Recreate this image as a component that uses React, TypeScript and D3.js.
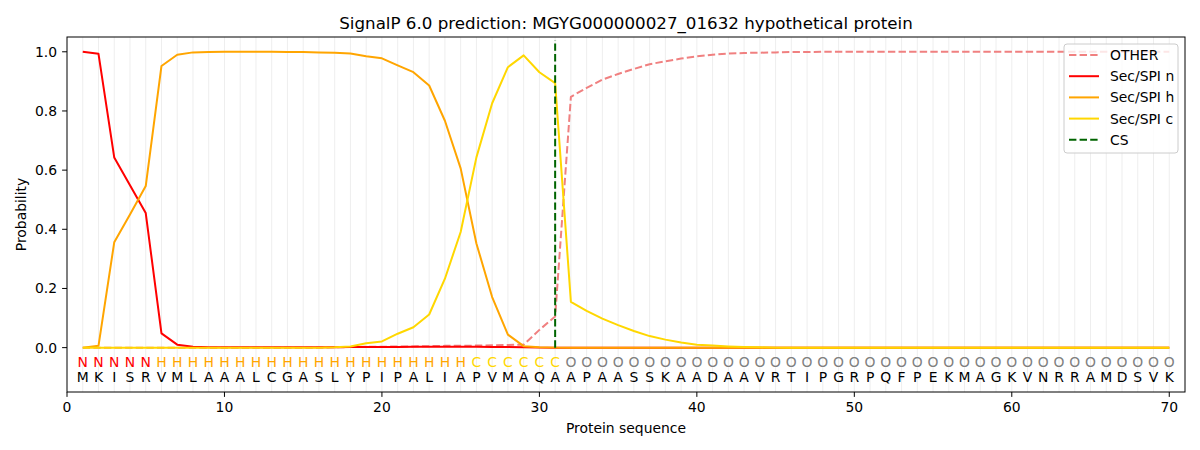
import * as d3 from "d3";

const sequence = "MKISRVMLAAALCGASLYPIPALIAPVMAQAAPAASSKAADAAVRTIPGRPQFPEKMAGKVNRRAMDSVK".split("");
const regions = "NNNNNHHHHHHHHHHHHHHHHHHHHCCCCCCOOOOOOOOOOOOOOOOOOOOOOOOOOOOOOOOOOOOOOO".split("");

const otherProb = [
  0, 0, 0, 0, 0, 0, 0, 0, 0, 0, 0, 0, 0, 0, 0, 0, 0.001, 0.002, 0.003, 0.003,
  0.004, 0.004, 0.005, 0.006, 0.006, 0.007, 0.008, 0.009, 0.01, 0.06, 0.105,
  0.848, 0.878, 0.906, 0.925, 0.942, 0.958, 0.968, 0.977, 0.985, 0.99, 0.994,
  0.996, 0.997, 0.998, 0.999, 0.999, 1, 1, 1, 1, 1, 1, 1, 1, 1, 1, 1, 1, 1, 1,
  1, 1, 1, 1, 1, 1, 1, 1, 1,
];
const nProb = [
  1.0, 0.993, 0.643, 0.549, 0.455, 0.048, 0.01, 0.003, 0.001, 0.001, 0.001,
  0.001, 0.001, 0.001, 0.001, 0.001, 0.001, 0.002, 0.002, 0.002, 0.002, 0.003,
  0.003, 0.003, 0.003, 0.003, 0.002, 0.002, 0.001, 0, 0, 0, 0, 0, 0, 0, 0, 0,
  0, 0, 0, 0, 0, 0, 0, 0, 0, 0, 0, 0, 0, 0, 0, 0, 0, 0, 0, 0, 0, 0, 0, 0, 0,
  0, 0, 0, 0, 0, 0, 0,
];
const hProb = [
  0, 0.006, 0.356, 0.45, 0.546, 0.952, 0.99, 0.998, 0.999, 1.0, 1.0, 1.0, 1.0,
  0.999, 0.999, 0.998, 0.997, 0.994, 0.985, 0.978, 0.954, 0.931, 0.886, 0.767,
  0.606, 0.352, 0.171, 0.044, 0.005, 0.001, 0, 0, 0, 0, 0, 0, 0, 0, 0, 0, 0,
  0, 0, 0, 0, 0, 0, 0, 0, 0, 0, 0, 0, 0, 0, 0, 0, 0, 0, 0, 0, 0, 0, 0, 0, 0,
  0, 0, 0, 0,
];
const cProb = [
  0, 0, 0, 0, 0, 0, 0, 0, 0, 0, 0, 0, 0, 0, 0, 0, 0.001, 0.004, 0.015, 0.021,
  0.047, 0.069, 0.112, 0.233, 0.391, 0.643, 0.826, 0.948, 0.988, 0.931, 0.894,
  0.155, 0.124, 0.098, 0.076, 0.056, 0.039, 0.027, 0.017, 0.01, 0.007, 0.004,
  0.002, 0.001, 0, 0, 0, 0, 0, 0, 0, 0, 0, 0, 0, 0, 0, 0, 0, 0, 0, 0, 0, 0, 0,
  0, 0, 0, 0, 0,
];
const cleavageSite = 31;

const xTicks = [0, 10, 20, 30, 40, 50, 60, 70];
const yTicks = [0, 0.2, 0.4, 0.6, 0.8, 1.0];

const regionColor: Record<string, string> = {
  N: "#ff0000",
  H: "#ffa500",
  C: "#ffd700",
  O: "#808080",
};

const series = [
  { name: "OTHER", values: otherProb, color: "#f08080", dash: "7.4,3.2" },
  { name: "Sec/SPI n", values: nProb, color: "#ff0000", dash: "" },
  { name: "Sec/SPI h", values: hProb, color: "#ffa500", dash: "" },
  { name: "Sec/SPI c", values: cProb, color: "#ffd700", dash: "" },
];

const W = 1200;
const H = 450;
const margin = { left: 67, right: 15, top: 37, bottom: 58 };
const font = "'DejaVu Sans', sans-serif";

export default function App() {
  const x = d3.scaleLinear().domain([0, 71]).range([margin.left, W - margin.right]);
  const y = d3.scaleLinear().domain([-0.15, 1.05]).range([H - margin.bottom, margin.top]);
  const positions = sequence.map((_, i) => i + 1);

  const line = (vals: number[]) =>
    d3
      .line<number>()
      .x((_, i) => x(positions[i]))
      .y((v) => y(v))(vals) as string;

  const legendX = 1064;
  const legendY = 44;

  return (
    <svg
      width={W}
      height={H}
      style={{ position: "absolute", left: 0, top: 0, background: "#fff" }}
      fontFamily={font}
    >
      <rect width={W} height={H} fill="#fff" />
      {/* light grid at each residue */}
      {positions.map((p) => (
        <line
          key={"g" + p}
          x1={x(p)}
          x2={x(p)}
          y1={margin.top}
          y2={H - margin.bottom}
          stroke="#000"
          strokeOpacity={0.07}
          strokeWidth={1}
        />
      ))}

      {series.map((s) => (
        <path
          key={s.name}
          d={line(s.values)}
          fill="none"
          stroke={s.color}
          strokeWidth={2}
          strokeDasharray={s.dash || undefined}
          strokeLinejoin="round"
        />
      ))}

      <line
        x1={x(cleavageSite)}
        x2={x(cleavageSite)}
        y1={y(0)}
        y2={y(1.04)}
        stroke="#006400"
        strokeWidth={2}
        strokeDasharray="7.4,3.2"
      />

      {/* residue labels */}
      {sequence.map((aa, i) => (
        <g key={"s" + i}>
          <text
            x={x(positions[i])}
            y={y(-0.05)}
            dy="0.36em"
            textAnchor="middle"
            fontSize={13.9}
            fill={regionColor[regions[i]]}
          >
            {regions[i]}
          </text>
          <text
            x={x(positions[i])}
            y={y(-0.1)}
            dy="0.36em"
            textAnchor="middle"
            fontSize={13.9}
            fill="#000"
          >
            {aa}
          </text>
        </g>
      ))}

      {/* axes frame */}
      <rect
        x={margin.left}
        y={margin.top}
        width={W - margin.left - margin.right}
        height={H - margin.top - margin.bottom}
        fill="none"
        stroke="#000"
        strokeWidth={1}
      />

      {xTicks.map((t) => (
        <g key={"xt" + t}>
          <line x1={x(t)} x2={x(t)} y1={H - margin.bottom} y2={H - margin.bottom + 4.9} stroke="#000" />
          <text x={x(t)} y={H - margin.bottom + 19.5} textAnchor="middle" fontSize={13.9} fill="#000">
            {t}
          </text>
        </g>
      ))}
      {yTicks.map((t) => (
        <g key={"yt" + t}>
          <line x1={margin.left - 4.9} x2={margin.left} y1={y(t)} y2={y(t)} stroke="#000" />
          <text x={margin.left - 10} y={y(t)} dy="0.36em" textAnchor="end" fontSize={13.9} fill="#000">
            {t.toFixed(1)}
          </text>
        </g>
      ))}

      <text x={(margin.left + W - margin.right) / 2} y={433} textAnchor="middle" fontSize={13.9}>
        Protein sequence
      </text>
      <text
        transform={`translate(26,${(margin.top + H - margin.bottom) / 2}) rotate(-90)`}
        textAnchor="middle"
        fontSize={13.9}
      >
        Probability
      </text>
      <text x={(margin.left + W - margin.right) / 2} y={29} textAnchor="middle" fontSize={16.7}>
        SignalP 6.0 prediction: MGYG000000027_01632 hypothetical protein
      </text>

      {/* legend */}
      <rect
        x={legendX}
        y={legendY}
        width={114}
        height={109}
        rx={3}
        fill="#fff"
        fillOpacity={0.8}
        stroke="#ccc"
      />
      {[...series, { name: "CS", color: "#006400", dash: "7.4,3.2" }].map((s, i) => (
        <g key={"l" + s.name} transform={`translate(${legendX + 5},${legendY + 11 + i * 21.2})`}>
          <line x1={0} x2={30} y1={0} y2={0} stroke={s.color} strokeWidth={2} strokeDasharray={s.dash || undefined} />
          <text x={41} y={0} dy="0.36em" fontSize={13.9} fill="#000">
            {s.name}
          </text>
        </g>
      ))}
    </svg>
  );
}
